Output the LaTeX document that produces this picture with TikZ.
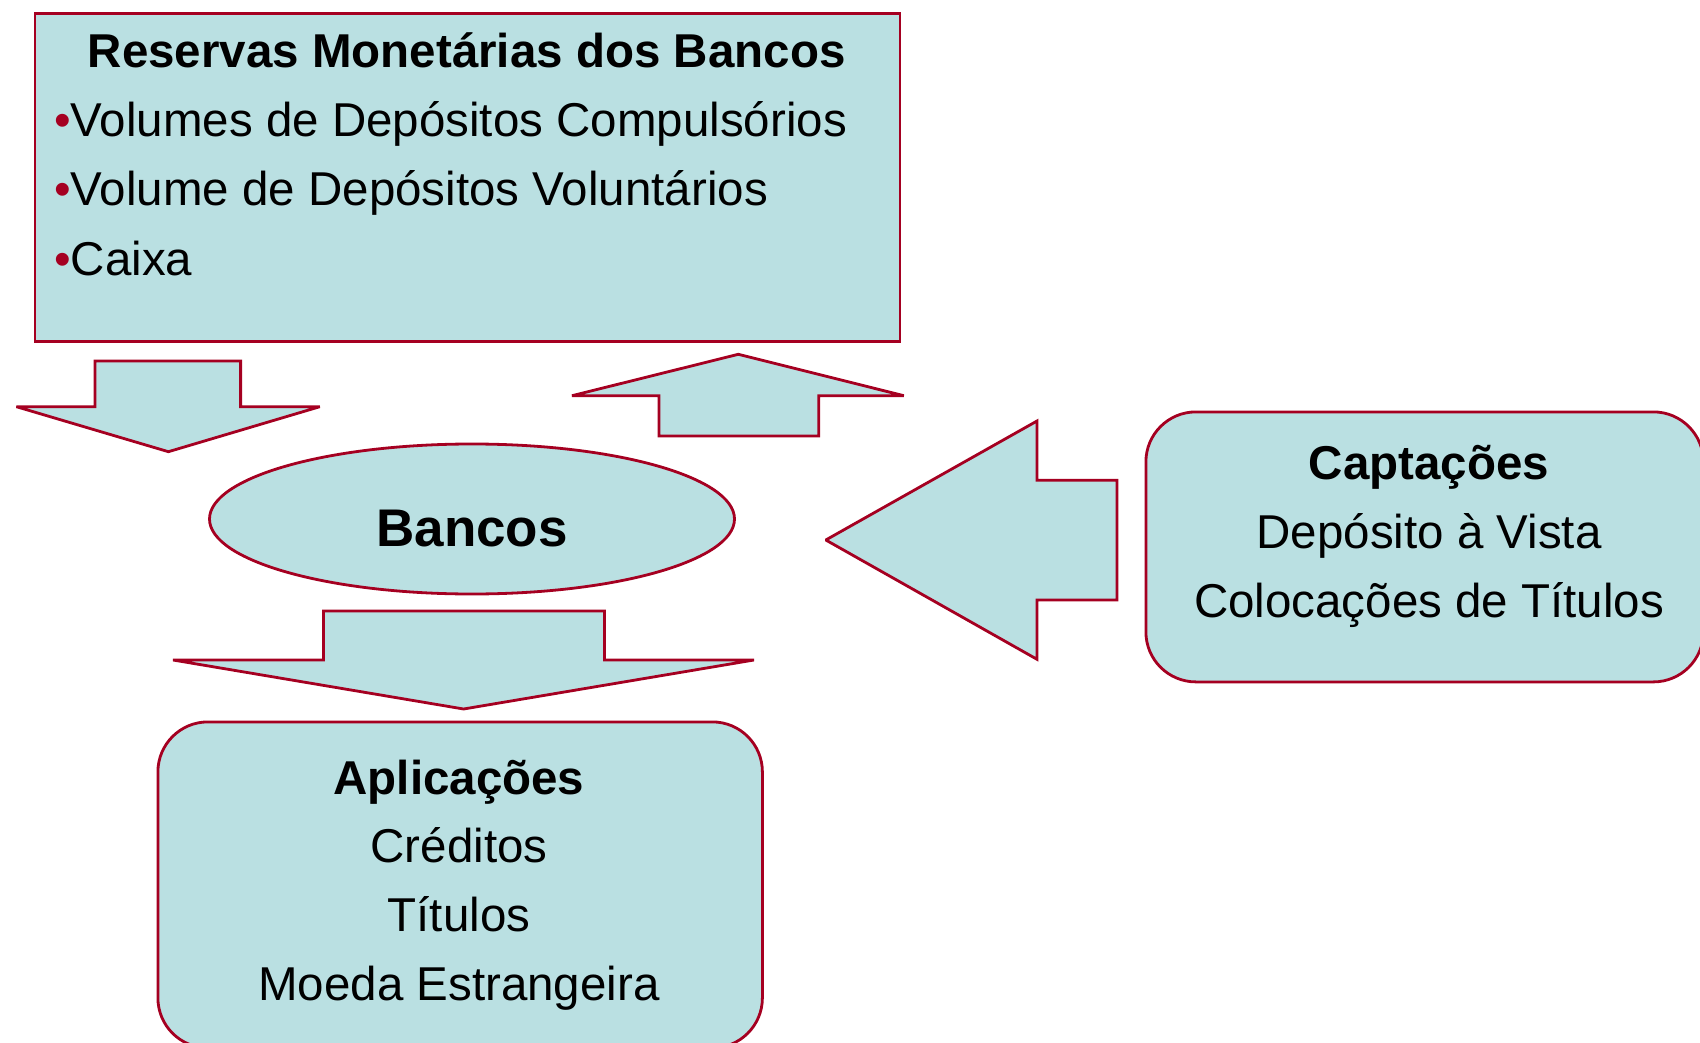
\documentclass[tikz,border=0pt]{standalone}
\usepackage{fontspec}
\setmainfont{Liberation Sans}
\usetikzlibrary{shapes.geometric}
\definecolor{boxfill}{RGB}{186,224,226}
\definecolor{boxline}{RGB}{165,0,33}
\tikzset{
  shapebox/.style={draw=boxline, fill=boxfill, line width=2.8pt},
  blockarrow/.style={draw=boxline, fill=boxfill, line width=2.8pt, line join=miter, miter limit=2},
  txt/.style={inner sep=0pt, font=\fontsize{47.5}{57}\selectfont},
  btxt/.style={inner sep=0pt, font=\fontsize{47.5}{57}\selectfont\bfseries},
}
\begin{document}
\begin{tikzpicture}[x=1pt,y=-1pt]
\useasboundingbox (0,0) rectangle (1700,1043);
\fill[white] (0,0) rectangle (1700,1043);
% top rectangle
\node[shapebox, rectangle, minimum width=865pt, minimum height=328pt, anchor=north west] (reservas) at (33.5,12) {};
\node[btxt, anchor=base] (rtitle) at (466.7,67.7) {Reservas Monetárias dos Bancos};
\node[txt, anchor=base west] (r1) at (54,137) {\textcolor{boxline}{•}Volumes de Depósitos Compulsórios};
\node[txt, anchor=base west] (r2) at (54,206) {\textcolor{boxline}{•}Volume de Depósitos Voluntários};
\node[txt, anchor=base west] (r3) at (54,275) {\textcolor{boxline}{•}Caixa};
% ellipse
\node[shapebox, ellipse, minimum width=525pt, minimum height=150pt, inner sep=0pt] (bancos) at (472,519) {};
\node[inner sep=0pt, font=\fontsize{53}{60}\selectfont\bfseries, anchor=base] (bancostxt) at (472,546.7) {Bancos};
% Captacoes box
\node[shapebox, rectangle, rounded corners=50pt, minimum width=557.5pt, minimum height=270pt, anchor=north west] (capt) at (1144.5,410.5) {};
\node[btxt, anchor=base] (c0) at (1429,479.3) {Captações};
\node[txt, anchor=base] (c1) at (1429,548.3) {Depósito à Vista};
\node[txt, anchor=base] (c2) at (1429,617.3) {Colocações de Títulos};
% Aplicacoes box
\node[shapebox, rectangle, rounded corners=50pt, minimum width=604.5pt, minimum height=326pt, anchor=north west] (aplic) at (156.5,720.5) {};
\node[btxt, anchor=base] (a0) at (459,794) {Aplicações};
\node[txt, anchor=base] (a1) at (459,862.7) {Créditos};
\node[txt, anchor=base] (a2) at (459,931) {Títulos};
\node[txt, anchor=base] (a3) at (459,1000) {Moeda Estrangeira};
% block arrows
\draw[blockarrow] (95,361) -- (240.6,361) -- (240.6,406.7) -- (319.8,406.7) -- (168.4,451.7) -- (16.4,406.7) -- (95,406.7) -- cycle;
\draw[blockarrow] (659,436) -- (818.7,436) -- (818.7,395.7) -- (903.8,395.7) -- (738.3,354.3) -- (572,395.7) -- (659,395.7) -- cycle;
\draw[blockarrow] (323.4,611) -- (604.5,611) -- (604.5,660) -- (754,660) -- (463.6,709) -- (173,660) -- (323.4,660) -- cycle;
\draw[blockarrow] (1116.9,480.3) -- (1037,480.3) -- (1037,421) -- (825.8,540) -- (1037,659.3) -- (1037,600) -- (1116.9,600) -- cycle;
\end{tikzpicture}
\end{document}
